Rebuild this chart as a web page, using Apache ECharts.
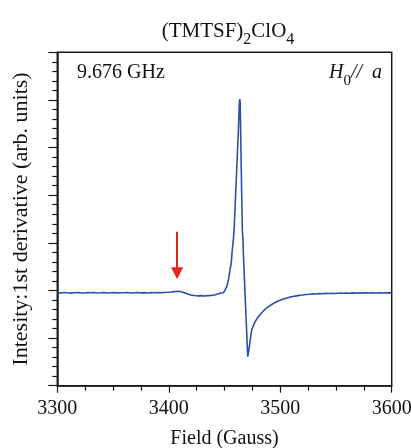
<!DOCTYPE html>
<html>
<head>
<meta charset="utf-8">
<script src="https://cdn.jsdelivr.net/npm/echarts@6/dist/echarts.min.js"></script>
<style>html,body{margin:0;padding:0;background:#fff}#c{width:411px;height:448px}</style>
</head>
<body>
<div id="c"></div>
<script>
// Field (Gauss) and 1st-derivative intensity (arb. units, axis spans 0..7)
var fieldGauss = [
  3300,3303,3306,3309,3312,3315,3318,3321,3324,3327,3330,3333,3336,3339,3342,3345,3348,3351,3354,3357,
  3360,3363,3366,3369,3372,3375,3378,3381,3384,3387,3390,3393,3396,3399,3402,3405,3408,3411,3414,3417,
  3420,3423,3426,3429,3432,3435,3438,3441,3444,3447,3449,3450.5,3452,3453.5,3455,3456,3457,3457.9,3458.6,3459.5,
  3461,3462.5,3463.3,3463.7,3464.1,3465,3466,3466.6,3467,3468,3469,3470,3470.6,3470.9,3471.3,3472,3472.7,3473.5,3474.5,3476,
  3477.4,3479,3480.4,3482.5,3484.9,3487,3489.4,3492,3495,3498.3,3502,3505.9,3509,3513.3,3517,3520,3523,3526,3529,3532,
  3535,3538,3541,3544,3547,3550,3553,3556,3559,3562,3565,3568,3571,3574,3577,3580,3583,3586,3589,3592,3595,3598,3600
];
var intensity = [
  1.955,1.948,1.957,1.950,1.944,1.953,1.958,1.949,1.945,1.954,1.950,1.957,1.947,1.952,1.958,1.946,1.951,1.955,1.948,1.953,
  1.950,1.957,1.946,1.952,1.956,1.949,1.954,1.947,1.955,1.951,1.958,1.950,1.957,1.962,1.968,1.976,1.982,1.972,1.952,1.925,
  1.902,1.893,1.886,1.891,1.884,1.892,1.897,1.905,1.925,1.945,1.952,2.010,2.080,2.220,2.430,2.570,2.850,3.060,3.270,3.760,
  4.570,5.380,5.930,6.020,5.930,4.600,3.270,3.060,2.720,2.170,1.620,1.070,0.740,0.610,0.650,0.780,0.890,1.040,1.170,1.270,
  1.340,1.400,1.450,1.510,1.570,1.620,1.660,1.700,1.740,1.780,1.815,1.840,1.862,1.880,1.897,1.905,1.915,1.920,1.928,1.925,
  1.934,1.930,1.938,1.935,1.942,1.937,1.945,1.940,1.946,1.941,1.948,1.943,1.950,1.944,1.949,1.946,1.952,1.945,1.950,1.947,1.953,1.948,1.950
];
var xTicks = [3300, 3400, 3500, 3600];
var arrowField = 3407.5;
var arrowFrom = 3.23;
var arrowTo = 2.36;

var serif = "'Liberation Serif','Times New Roman',serif";
var points = fieldGauss.map(function (f, i) { return [f, intensity[i]]; });

var chart = echarts.init(document.getElementById('c'), null, {renderer: 'canvas'});
chart.setOption({
  animation: false,
  backgroundColor: '#fff',
  title: {
    text: '{n|(TMTSF)}{s|2}{n|ClO}{s|4}',
    left: 223, top: 16, textAlign: 'center',
    textStyle: {
      fontWeight: 'normal',
      rich: {
        n: {fontFamily: serif, fontSize: 21, fontWeight: 'normal', color: '#111', lineHeight: 22, verticalAlign: 'top'},
        s: {fontFamily: serif, fontSize: 16, fontWeight: 'normal', color: '#111', lineHeight: 27, verticalAlign: 'bottom'}
      }
    }
  },
  grid: {left: 57.3, right: 19.3, top: 52.3, bottom: 62.3, show: true, borderColor: '#1a1a1a', borderWidth: 1.5,
    backgroundColor: 'transparent', containLabel: false, outerBoundsMode: 'none'},
  xAxis: {
    type: 'value', min: xTicks[0], max: xTicks[xTicks.length - 1], interval: 100,
    name: 'Field (Gauss)', nameLocation: 'middle', nameGap: 43,
    nameTextStyle: {fontFamily: serif, fontSize: 20, color: '#111'},
    axisLine: {show: true, lineStyle: {color: '#1a1a1a', width: 1.5}},
    axisTick: {show: true, inside: false, length: 7, lineStyle: {color: '#1a1a1a', width: 1.2}},
    minorTick: {show: true, splitNumber: 4, length: 5, lineStyle: {color: '#1a1a1a', width: 1.2}},
    axisLabel: {fontFamily: serif, fontSize: 20, color: '#111', margin: 13, formatter: function (v) { return String(v); }},
    splitLine: {show: false}
  },
  yAxis: {
    type: 'value', min: 0, max: 7, interval: 1,
    name: 'Intesity:1st derivative (arb. units)', nameLocation: 'middle', nameGap: 25, nameRotate: 90,
    nameTextStyle: {fontFamily: serif, fontSize: 22, color: '#111'},
    axisLine: {show: true, lineStyle: {color: '#1a1a1a', width: 1.5}},
    axisTick: {show: true, inside: false, length: 9, lineStyle: {color: '#1a1a1a', width: 1.2}},
    minorTick: {show: true, splitNumber: 5, length: 5, lineStyle: {color: '#1a1a1a', width: 1.2}},
    axisLabel: {show: false},
    splitLine: {show: false}
  },
  graphic: [
    {type: 'text', left: 77, top: 63, style: {text: '9.676 GHz', font: '20px ' + serif, fill: '#111'}},
    {type: 'text', right: 29, top: 63, style: {
      text: '{i|H}{s|0}{n|//  }{i|a}',
      rich: {
        i: {fontFamily: serif, fontStyle: 'italic', fontSize: 20, fill: '#111', lineHeight: 22, verticalAlign: 'top'},
        n: {fontFamily: serif, fontStyle: 'italic', fontSize: 20, fill: '#111', lineHeight: 22, verticalAlign: 'top'},
        s: {fontFamily: serif, fontSize: 15, fill: '#111', lineHeight: 26, verticalAlign: 'bottom'}
      }
    }}
  ],
  series: [{
    type: 'line', data: points, showSymbol: false, symbol: 'none', smooth: false,
    lineStyle: {color: '#2b50a8', width: 1.6},
    markLine: {
      silent: true, animation: false,
      symbol: ['none', 'triangle'], symbolSize: [12, 12],
      label: {show: false},
      lineStyle: {color: '#e3261d', width: 2, type: 'solid'},
      data: [[{coord: [arrowField, arrowFrom]}, {coord: [arrowField, arrowTo]}]]
    }
  }]
});
</script>
</body>
</html>
